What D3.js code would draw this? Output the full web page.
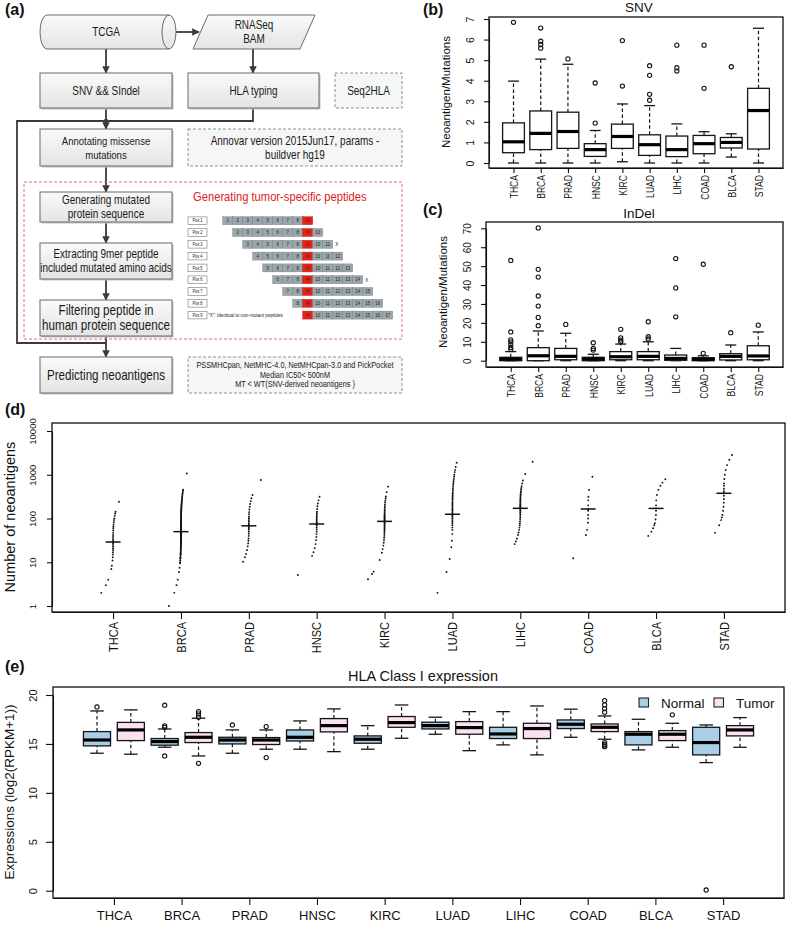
<!DOCTYPE html>
<html><head><meta charset="utf-8">
<script src="https://cdn.jsdelivr.net/npm/d3@7"></script>
<style>
body{margin:0;background:#fff}
svg{display:block}
text{font-family:"Liberation Sans",Arial,Helvetica,sans-serif}
</style>
</head><body>
<svg id="c" width="786" height="927"></svg>
<script>
// ---------------- DATA ----------------
const cancers = ["THCA","BRCA","PRAD","HNSC","KIRC","LUAD","LIHC","COAD","BLCA","STAD"];

// (b) SNV neoantigen/mutation: [lower whisker, Q1, median, Q3, upper whisker]
const snvStats = [
 [0,0.50,1.03,1.95,3.98],
 [0,0.65,1.44,2.53,5.05],
 [0,0.71,1.53,2.47,4.80],
 [0,0.32,0.65,0.94,1.58],
 [0.06,0.71,1.29,1.89,2.87],
 [0,0.37,0.89,1.37,2.79],
 [0,0.31,0.65,1.31,1.90],
 [0,0.45,0.94,1.34,1.52],
 [0.29,0.73,1.00,1.24,1.42],
 [0,0.68,2.55,3.63,6.55]];
const snvOutliers = [[6.84],[6.56,5.92,5.76,5.58],[5.06],[1.94,3.89],[3.74,5.95],
 [3.05,3.34,4.26,4.73],[4.47,4.63,5.73],[3.63,5.73],[4.68],[]];
const snvTicks = [0,1,2,3,4,5,6,7];

// (c) InDel
const indelStats = [
 [0,0,0.9,1.8,4.8],
 [0,0,2.6,6.9,15.7],
 [0,0.5,2.3,6.5,14.5],
 [0,0,0.9,1.8,3.4],
 [0,0.5,2.1,4.8,8.8],
 [0,0.5,2.3,4.8,10],
 [0,0.2,1.2,3.0,6.5],
 [0,0,0.7,1.6,2.6],
 [0,0.4,2.3,3.7,8.3],
 [0,0.5,2.5,7.9,15.2]];
const indelOutliers = [[53,15.2,11,10,8.5,7,6],[70.2,48.3,44.2,34.2,28.9,22.9,18.5],[19.2],
 [9.5,6.5,5.6],[16.6,12.1,10.9,10],[20.6,12.7,11.5],[54,38.5,23.2],[51,3.9],[14.8],[18.8]];
const indelTicks = [0,10,20,30,40,50,60,70];

// (d) number of neoantigens per sample
const neoTHCA = [2,3,4,7,8.3,11,13,15,17,19,21,23,25,27,29,31,34,38,42,47,53,60,65,72,82,92,100,115,130,143,242];
const neoBRCA = [1,2,3,4,6,7.5,9.5,10,11,12,12.5,13,14,15,15.5,16,17,18,19,20,21,22,23,24,25,26,27,28,29,30,
 31,32,33,34,35,36,37,38,39,40,41,42,43,44,45,46,47,48,49,50,51,52,54,56,58,60,62,64,66,68,
 70,72,75,78,81,84,87,90,94,98,102,106,110,115,120,125,130,136,142,148,155,162,170,178,186,195,205,
 215,226,238,250,265,280,300,320,345,370,400,430,455,1070];
const neoPRAD = [10.3,13,15.5,19,23,27,31,35,40,45,50,55,60,64,68,72,78,85,92,100,110,125,140,160,186,215,250,290,345,760];
const neoHNSC = [5.1,14,17,21,26,32,38,44,50,56,62,68,72,75,78,82,88,95,102,110,120,132,143,165,190,220,260,315];
const neoKIRC = [4.1,5.4,6.1,11.3,16.5,20,24,28,32,36,40,44,48,52,56,60,64,68,72,76,80,83,86,89,92,96,100,105,110,
 116,122,130,140,150,160,175,190,210,235,260,290,320,400,535];
const neoLUAD = [2,6,11.9,22,31,44,55,62,70,78,85,92,100,108,115,120,125,130,140,150,160,172,185,200,215,230,250,
 270,290,315,340,370,400,440,480,530,590,650,720,800,900,1000,1150,1290,1500,1880];
const neoLIHC = [26,30,35,42,48,55,62,70,78,86,95,105,115,125,135,145,155,165,171,178,186,195,205,215,228,240,255,
 270,290,310,335,360,390,420,460,500,550,635,740,1040,1990];
const neoCOAD = [12.3,42,55,80,100,120,150,165,200,260,315,450,900];
const neoBLCA = [40,50,60,70,78,95,120,150,170,200,260,345,450,560,660,790];
const neoSTAD = [47,70,92,105,120,150,186,230,280,330,377,420,480,560,635,800,1000,1290,1660,2200,2820];
const neoValues = [neoTHCA,neoBRCA,neoPRAD,neoHNSC,neoKIRC,neoLUAD,neoLIHC,neoCOAD,neoBLCA,neoSTAD];
const neoMedians = [29,50,68,75,86,125,171,165,170,377];
const neoTicks = [1,10,100,1000,10000];

// (e) HLA class I expression [lower whisker, Q1, median, Q3, upper whisker]
const hlaNormalStats = [
 [14.05,14.8,15.4,16.26,18.37],
 [14.66,14.87,15.24,15.55,16.53],
 [14.05,15.0,15.4,15.68,16.43],
 [14.46,15.3,15.68,16.43,17.35],
 [14.46,15.07,15.48,15.82,16.87],
 [15.99,16.53,16.87,17.22,17.73],
 [14.9,15.55,16.02,16.7,18.3],
 [15.68,16.57,17.01,17.45,18.55],
 [14.39,14.9,15.99,16.26,17.52],
 [13.09,13.88,15.14,16.7,16.94]];
const hlaNormalOutliers = [[18.78],[18.96,16.84,16.7,13.77],[16.94],[],[],[],[],[],[],[0.07]];
const hlaTumorStats = [
 [13.95,15.34,16.43,17.2,18.48],
 [13.77,15.14,15.68,16.16,17.63],
 [14.46,14.94,15.4,15.65,16.43],
 [14.21,16.23,16.87,17.59,18.58],
 [15.58,16.7,17.18,17.8,18.98],
 [14.31,15.99,16.67,17.28,18.3],
 [13.88,15.55,16.57,17.11,18.88],
 [15.48,16.26,16.7,17.04,17.86],
 [14.66,15.34,15.99,16.36,17.11],
 [14.66,15.82,16.43,16.87,17.69]];
const hlaTumorOutliers = [[],[18.3,18.07,17.73,13.02],[16.77,13.6],[],[],[],[],
 [19.43,18.99,18.61,18.24,15.14,14.95,14.8,14.72],[17.97],[]];
const hlaTicks = [0,5,10,15,20];
const hlaGroups = ["Normal","Tumor"];
const hlaColors = ["#a9cfe8","#fbe1f1"];

// ---------------- DRAW ----------------
const svg = d3.select("#c");
const defs = svg.append("defs");
defs.append("marker").attr("id","arr").attr("viewBox","0 0 10 10").attr("refX",9).attr("refY",5)
  .attr("markerWidth",4.2).attr("markerHeight",4.2).attr("orient","auto")
  .append("path").attr("d","M0,0L10,5L0,10z").attr("fill","#3a3a3a");
const gr = defs.append("linearGradient").attr("id","bg").attr("x1",0).attr("y1",0).attr("x2",0).attr("y2",1);
gr.append("stop").attr("offset","0%").attr("stop-color","#fafafa");
gr.append("stop").attr("offset","100%").attr("stop-color","#e4e4e4");

// ---- panel letters
[["(a)",5,15],["(b)",423,15],["(c)",423,215],["(d)",5,415],["(e)",5,672]].forEach(p=>{
  svg.append("text").attr("x",p[1]).attr("y",p[2]).attr("font-size",16).attr("font-weight","bold").attr("fill","#111").text(p[0]);
});

// ---- (a) flowchart
const A = svg.append("g");
const SX = 0.83;
function lab(x,y,t,fs,color,anchor){
  A.append("text").attr("transform",`translate(${x},${y}) scale(${SX},1)`)
   .attr("text-anchor",anchor||"middle").attr("dominant-baseline","central")
   .attr("font-size",fs).attr("fill",color||"#1a1a1a").text(t);
}
function fbox(x,y,w,h,lines,fs,lh,dashed){
  if(!dashed) A.append("rect").attr("x",x+1.5).attr("y",y+1.5).attr("width",w).attr("height",h).attr("fill","#c4c4c4");
  A.append("rect").attr("x",x).attr("y",y).attr("width",w).attr("height",h)
   .attr("fill",dashed?"#f5f6f6":"url(#bg)").attr("stroke",dashed?"#858585":"#6a6a6a")
   .attr("stroke-width",dashed?0.9:1).attr("stroke-dasharray",dashed?"3,2":null);
  lines.forEach((t,i)=>lab(x+w/2, y+h/2+(i-(lines.length-1)/2)*lh, t, fs));
}
function ln(pts,arrow){
  A.append("path").attr("d",d3.line()(pts)).attr("fill","none").attr("stroke","#3a3a3a").attr("stroke-width",1.8)
   .attr("marker-end",arrow?"url(#arr)":null);
}
// connectors
ln([[176,32],[199,32]],true);
ln([[106,49],[106,73]],true);
ln([[253,49],[253,73]],true);
ln([[106,108],[106,129]],true);
ln([[253,108],[253,121],[106,121]]);
ln([[106,121],[17,121],[17,343],[106,343]]);
A.append("circle").attr("cx",106).attr("cy",121).attr("r",2.2).attr("fill","#3a3a3a");
ln([[106,166],[106,192]],true);
ln([[106,222],[106,243]],true);
ln([[106,279],[106,300]],true);
ln([[106,336],[106,357]],true);
// cylinder
A.append("path").attr("d","M47,15H169A7,17 0 0 1 169,49H47A7,17 0 0 1 47,15Z").attr("fill","url(#bg)").attr("stroke","#6a6a6a");
A.append("path").attr("d","M169,15A7,17 0 0 0 169,49").attr("fill","none").attr("stroke","#6a6a6a");
lab(106,32,"TCGA",12);
// parallelogram
A.append("path").attr("d","M208,15L315,15L300,49L193,49Z").attr("fill","url(#bg)").attr("stroke","#6a6a6a");
lab(254,25,"RNASeq",12); lab(254,39,"BAM",12);
fbox(40,73,132,35,["SNV && SIndel"],12,14);
fbox(188,73,131,35,["HLA typing"],12,14);
fbox(335,73,67,35,["Seq2HLA"],12,14,true);
fbox(40,129,132,37,["Annotating missense","mutations"],11.5,14);
fbox(188,129,214,37,["Annovar version 2015Jun17, params -","buildver hg19"],12,14,true);
A.append("rect").attr("x",24).attr("y",182).attr("width",378).attr("height",157).attr("fill","none")
 .attr("stroke","#e06060").attr("stroke-width",0.9).attr("stroke-dasharray","3,2");
fbox(40,192,132,30,["Generating mutated","protein sequence"],12,14);
fbox(40,243,132,36,["Extracting 9mer peptide","included mutated amino acids"],12,14);
fbox(40,300,132,36,["Filtering peptide in","human protein sequence"],14,15);
fbox(40,357,132,36,["Predicting neoantigens"],14,15);
fbox(188,357,214,36,["PSSMHCpan, NetMHC-4.0, NetMHCpan-3.0 and PickPocket","Median IC50< 500nM","MT < WT(SNV-derived neoantigens )"],8.8,9.3,true);
lab(193,197,"Generating tumor-specific peptides",13.5,"#e0201b","start");
// peptide windows
for(let r=1;r<=9;r++){
  const cy = 220.7+(r-1)*11.8;
  A.append("rect").attr("x",188).attr("y",cy-3.8).attr("width",19).attr("height",7.6).attr("fill","#fff").attr("stroke","#777").attr("stroke-width",0.6);
  lab(197.5,cy,"Pos "+r,4.8);
  for(let k=r;k<=r+8;k++){
    const x = 222.7+(k-1)*10, mut = k===9;
    A.append("rect").attr("x",x).attr("y",cy-4).attr("width",10).attr("height",8)
     .attr("fill",mut?"#e2231a":"#9aa6aa").attr("stroke",mut?"#c01010":"#6f7c80").attr("stroke-width",0.4);
    lab(x+5,cy,mut?"M":String(k),5.2,mut?"#7a1010":"#222");
  }
  if(r===3||r===6) lab(222.7+(r+8)*10+4,cy,"X",5.5,"#222");
}
lab(208,315.1,"\"X\": Identical to non-mutant peptides",5.6,"#222","start");

// ---- generic helpers for charts
function frame(g,f){ g.append("rect").attr("x",f.x0).attr("y",f.y0).attr("width",f.x1-f.x0).attr("height",f.y1-f.y0)
  .attr("fill","none").attr("stroke","#111").attr("stroke-width",1.3); }
function leftAxis(g,scale,ticks,x0,tickLen,labOff,fs,fmt){
  const ax = g.append("g").attr("transform",`translate(${x0},0)`)
    .call(d3.axisLeft(scale).tickValues(ticks).tickSize(tickLen).tickSizeOuter(0).tickFormat(fmt||d3.format("d")));
  ax.attr("font-family",null).attr("font-size",null);
  ax.selectAll("path,line").attr("stroke","#111").attr("stroke-width",1.1);
  ax.selectAll(".tick text").attr("x",0).attr("dy",0).attr("fill","#111").attr("text-anchor","middle")
    .attr("font-size",fs).attr("transform",`translate(${-labOff},0) rotate(-90)`);
  return ax;
}
// labGap: distance from the frame bottom to the top of the rotated labels
function bottomAxisRot(g,scale,y0,tickLen,labGap,fs,sx,half){
  const ax = g.append("g").attr("transform",`translate(0,${y0})`)
    .call(d3.axisBottom(scale).tickValues(d3.range(1,11)).tickFormat((d,i)=>cancers[i]).tickSize(tickLen).tickSizeOuter(0));
  ax.attr("font-family",null).attr("font-size",null);
  ax.selectAll("path,line").attr("stroke","#111").attr("stroke-width",1.1);
  ax.selectAll(".tick text").attr("y",0).attr("dy",0).attr("fill","#111").attr("text-anchor","end")
    .attr("font-size",fs).attr("transform",`translate(${half},${labGap}) rotate(-90) scale(${sx},1)`);
  return ax;
}
function boxGlyph(g,cx,halfW,capHalf,ys,st,outs,fill,medW,r){
  const col="#151515";
  g.append("line").attr("x1",cx).attr("x2",cx).attr("y1",ys(st[0])).attr("y2",ys(st[1])).attr("stroke",col).attr("stroke-width",1.2).attr("stroke-dasharray","3.5,2.5");
  g.append("line").attr("x1",cx).attr("x2",cx).attr("y1",ys(st[3])).attr("y2",ys(st[4])).attr("stroke",col).attr("stroke-width",1.2).attr("stroke-dasharray","3.5,2.5");
  [st[0],st[4]].forEach(v=>g.append("line").attr("x1",cx-capHalf).attr("x2",cx+capHalf).attr("y1",ys(v)).attr("y2",ys(v)).attr("stroke",col).attr("stroke-width",1.3));
  g.append("rect").attr("x",cx-halfW).attr("y",ys(st[3])).attr("width",2*halfW).attr("height",Math.max(0.5,ys(st[1])-ys(st[3])))
   .attr("fill",fill).attr("stroke",col).attr("stroke-width",1.3);
  g.append("line").attr("x1",cx-halfW).attr("x2",cx+halfW).attr("y1",ys(st[2])).attr("y2",ys(st[2])).attr("stroke","#000").attr("stroke-width",medW);
  outs.forEach(v=>g.append("circle").attr("cx",cx).attr("cy",ys(v)).attr("r",r).attr("fill","none").attr("stroke",col).attr("stroke-width",1.1));
}
function vtext(g,x,y,t,fs){
  g.append("text").attr("transform",`translate(${x},${y}) rotate(-90)`).attr("text-anchor","middle")
   .attr("dominant-baseline","central").attr("font-size",fs).attr("fill","#111").text(t);
}

// ---- (b) SNV
{
  const g = svg.append("g");
  const f = {x0:489,x1:783,y0:17,y1:168};
  const x = d3.scaleLinear().domain([0.1,10.9]).range([f.x0,f.x1]);
  const y = d3.scaleLinear().domain([0,7]).range([163,19]);
  const u = x(2)-x(1);
  cancers.forEach((c,i)=>boxGlyph(g,x(i+1),0.4*u,0.2*u,y,snvStats[i],snvOutliers[i],"#fff",3.2,2.1));
  leftAxis(g,y,snvTicks,f.x0,5,15,10.5);
  bottomAxisRot(g,x,f.y1,5,7,11,0.78,4);
  frame(g,f);
  g.append("text").attr("x",639).attr("y",12).attr("text-anchor","middle").attr("font-size",13.5).attr("fill","#111").text("SNV");
  vtext(g,446,92,"Neoantigen/Mutations",11.5);
}
// ---- (c) InDel
{
  const g = svg.append("g");
  const f = {x0:486,x1:783,y0:222,y1:367};
  const x = d3.scaleLinear().domain([0.1,10.9]).range([f.x0,f.x1]);
  const y = d3.scaleLinear().domain([0,70]).range([360.7,228.3]);
  const u = x(2)-x(1);
  cancers.forEach((c,i)=>boxGlyph(g,x(i+1),0.4*u,0.2*u,y,indelStats[i],indelOutliers[i],"#fff",3.2,2.1));
  leftAxis(g,y,indelTicks,f.x0,5,15,10);
  bottomAxisRot(g,x,f.y1,5,7,11,0.78,4);
  frame(g,f);
  g.append("text").attr("x",639).attr("y",218).attr("text-anchor","middle").attr("font-size",13.5).attr("fill","#111").text("InDel");
  vtext(g,443,292,"Neoantigen/Mutations",11.5);
}
// ---- (d) neoantigen counts
{
  const g = svg.append("g");
  const f = {x0:52,x1:785,y0:423,y1:612};
  const x = d3.scaleLinear().domain([0.1,10.9]).range([f.x0,f.x1]);
  const y = d3.scaleLog().domain([1,10000]).range([606,431]);
  cancers.forEach((c,i)=>{
    const vals = neoValues[i];
    const lo = d3.min(vals,v=>Math.log10(v)), hi = d3.max(vals,v=>Math.log10(v));
    const R = (hi-lo)/2, lm = Math.log10(neoMedians[i]);
    const cx = x(i+1);
    g.selectAll(null).data(vals).join("circle")
      .attr("cx",v=>cx+8.5*Math.pow((Math.log10(v)-lm)/R,3))
      .attr("cy",v=>y(v)).attr("r",0.95).attr("fill","#111");
    g.append("line").attr("x1",cx-7.5).attr("x2",cx+7.5).attr("y1",y(neoMedians[i])).attr("y2",y(neoMedians[i]))
      .attr("stroke","#111").attr("stroke-width",1.5);
  });
  leftAxis(g,y,neoTicks,f.x0,5,16,9.5,d3.format("d"));
  bottomAxisRot(g,x,f.y1,7,10,12,0.92,4.3);
  frame(g,f);
  vtext(g,10,517,"Number of neoantigens",14.5);
}
// ---- (e) HLA class I expression
{
  const g = svg.append("g");
  const f = {x0:53,x1:784,y0:687,y1:898};
  const x = d3.scaleLinear().domain([0.1,10.9]).range([f.x0,f.x1]);
  const y = d3.scaleLinear().domain([0,20]).range([890.7,695]);
  const u = x(2)-x(1);
  cancers.forEach((c,i)=>{
    boxGlyph(g,x(i+1-0.25),0.2*u,0.1*u,y,hlaNormalStats[i],hlaNormalOutliers[i],hlaColors[0],3.2,2.1);
    boxGlyph(g,x(i+1+0.25),0.2*u,0.1*u,y,hlaTumorStats[i],hlaTumorOutliers[i],hlaColors[1],3.2,2.1);
  });
  leftAxis(g,y,hlaTicks,f.x0,7,16,11);
  const ax = g.append("g").attr("transform",`translate(0,${f.y1})`)
    .call(d3.axisBottom(x).tickValues(d3.range(1,11)).tickFormat((d,i)=>cancers[i]).tickSize(7).tickSizeOuter(0));
  ax.attr("font-family",null).attr("font-size",null);
  ax.selectAll("path,line").attr("stroke","#111").attr("stroke-width",1.1);
  ax.selectAll(".tick text").attr("y",22).attr("dy",0).attr("font-size",13).attr("fill","#111");
  frame(g,f);
  g.append("text").attr("x",423).attr("y",681).attr("text-anchor","middle").attr("font-size",14.5).attr("fill","#111").text("HLA Class I expression");
  vtext(g,9,792,"Expressions (log2(RPKM+1))",13.5);
  // legend
  const lx = [639,714];
  hlaGroups.forEach((s,i)=>{
    g.append("rect").attr("x",lx[i]).attr("y",698).attr("width",9.5).attr("height",9).attr("fill",hlaColors[i]).attr("stroke","#222").attr("stroke-width",1.1);
    g.append("text").attr("x",lx[i]+22).attr("y",707.5).attr("font-size",13.5).attr("fill","#111").text(s);
  });
}
</script>
</body></html>
